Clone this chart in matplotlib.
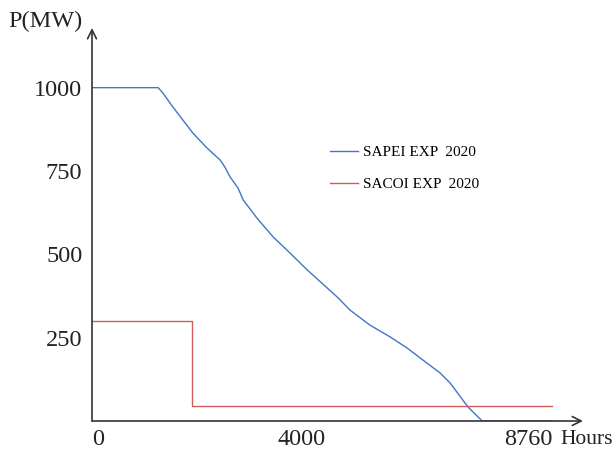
import matplotlib
matplotlib.use("Agg")
import matplotlib.pyplot as plt

# SAPEI duration curve (hours, MW)
sapei_hours = [0, 1260, 1350, 1540, 1730, 1920, 2190, 2440, 2530, 2630, 2780, 2880,
               3140, 3450, 3770, 4100, 4690, 4910, 5290, 5680, 6000, 6300, 6630,
               6820, 7160, 7430, 8760]
sapei_mw = [1000, 1000, 984, 942, 903, 864, 819, 783, 762, 732, 699, 663,
            609, 552, 504, 453, 369, 333, 288, 252, 219, 183, 144,
            114, 42, 0, 0]

# SACOI step curve
sacoi_hours = [0, 1900, 8760]
sacoi_mw = [300, 45, 45]

x_ticks = [0, 4000, 8760]
y_ticks = [250, 500, 750, 1000]

plt.rcParams['font.family'] = ['Liberation Serif', 'DejaVu Serif']

fig = plt.figure(figsize=(6.16, 4.51), dpi=100)
W, H = 616.0, 451.0
ax = fig.add_axes([92 / W, (H - 421) / H, (583 - 92) / W, (421 - 28) / H])

ax.plot(sapei_hours, sapei_mw, color='#3d77c6', lw=1.0, label='SAPEI EXP  2020')
ax.plot(sacoi_hours, sacoi_mw, color='#d25c5c', lw=1.0, drawstyle='steps-post',
        label='SACOI EXP  2020')

ax.set_xlim(0, 9350)
ax.set_ylim(0, 1179)

for s in ax.spines.values():
    s.set_visible(False)

# axes with open arrow heads
ax.annotate('', xy=(1, 0), xytext=(0, 0), xycoords='axes fraction',
            arrowprops=dict(arrowstyle='->', color='#333333', lw=1.2,
                            mutation_scale=16, shrinkA=0, shrinkB=0))
ax.annotate('', xy=(0, 1), xytext=(0, 0), xycoords='axes fraction',
            arrowprops=dict(arrowstyle='->', color='#333333', lw=1.2,
                            mutation_scale=16, shrinkA=0, shrinkB=0))

ax.set_yticks(y_ticks)
ax.set_yticklabels([str(v) for v in y_ticks], fontsize=17.5, color='#222222')
ax.set_xticks(x_ticks)
ax.set_xticklabels([str(v) for v in x_ticks], fontsize=17.5, color='#222222')
ax.tick_params(axis='both', length=0)
ax.tick_params(axis='y', pad=7)
ax.tick_params(axis='x', pad=6)
xl = ax.get_xticklabels()
xl[0].set_ha('left')
xl[-1].set_ha('right')

fig.text(8 / W, 1 - 21 / H, 'P(MW)', fontsize=17.5, color='#222222', va='center', ha='left')
fig.text(613 / W, 1 - 439.5 / H, 'Hours', fontsize=15.5, color='#222222', va='center', ha='right')

leg = ax.legend(loc='upper left', bbox_to_anchor=(316 / W, 1 - 132 / H),
                bbox_transform=fig.transFigure, frameon=False, fontsize=11,
                handlelength=1.85, handletextpad=0.3, labelspacing=1.2)

fig.savefig('out.png', dpi=100)
